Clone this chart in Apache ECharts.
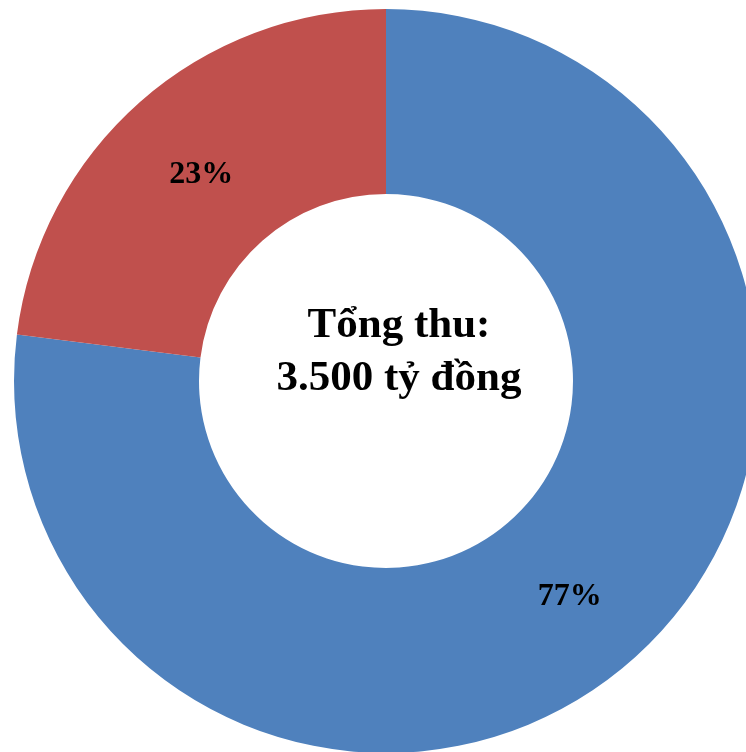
<!DOCTYPE html>
<html><head><meta charset="utf-8">
<script src="https://cdn.jsdelivr.net/npm/echarts@6/dist/echarts.min.js"></script>
<style>html,body{margin:0;padding:0;background:#fff}#c{width:746px;height:752px}</style>
</head><body><div id="c"></div>
<script>
var categories = ['Phần 1', 'Phần 2'];
var values = [77, 23];
var colors = ['#4F81BD', '#C0504D'];
var centerLines = ['Tổng thu:', '3.500 tỷ đồng'];
var labelNudges = [[-3, 4], [2, 6]];

var chart = echarts.init(document.getElementById('c'));
chart.setOption({
  animation: false,
  graphic: [{
    type: 'text', x: 399, y: 299,
    style: {
      text: centerLines.join('\n'),
      font: 'bold 43px "Liberation Serif", "Times New Roman", serif',
      lineHeight: 53, fill: '#000', textAlign: 'center'
    }
  }],
  series: [{
    type: 'pie',
    center: [386, 381],
    radius: [187, 372],
    startAngle: 90,
    clockwise: true,
    avoidLabelOverlap: false,
    label: {
      show: true, position: 'inside',
      formatter: '{d}%',
      color: '#000',
      fontFamily: '"Liberation Serif", "Times New Roman", serif',
      fontWeight: 'bold', fontSize: 32
    },
    labelLine: { show: false },
    itemStyle: { borderWidth: 0 },
    emphasis: { disabled: true },
    data: categories.map(function (c, i) {
      return { name: c, value: values[i], itemStyle: { color: colors[i] },
               label: { offset: labelNudges[i] } };
    })
  }]
});
</script></body></html>
